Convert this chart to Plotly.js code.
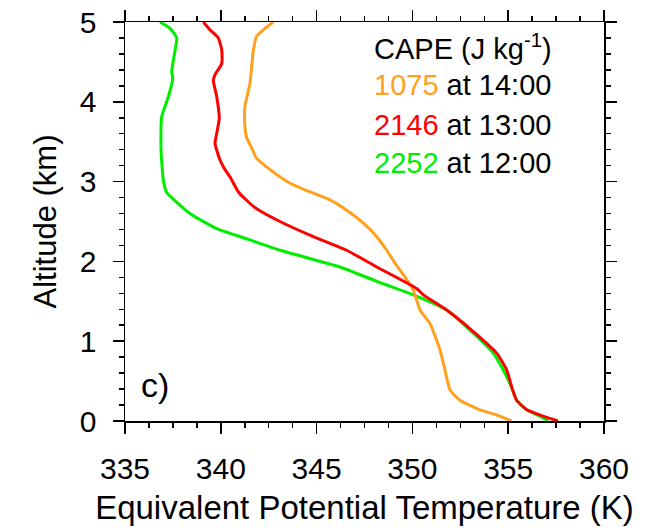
<!DOCTYPE html>
<html>
<head>
<meta charset="utf-8">
<script src="https://cdn.plot.ly/plotly-3.0.1.min.js"></script>
<style>html,body{margin:0;padding:0;background:#fff;}#chart{width:646px;height:530px;}</style>
</head>
<body>
<div id="chart"></div>
<script>
// Altitude (km) and equivalent potential temperature (K), read top to bottom
const altGreen = [5.0,4.92,4.80,4.60,4.38,4.29,4.06,3.81,3.40,3.02,2.87,2.60,2.41,2.27,2.14,1.93,1.75,1.58,1.39,1.10,0.85,0.64,0.47,0.26,0.14,0.06,0.0];
const thetaGreen = [336.83,337.35,337.70,337.58,337.44,337.49,337.26,336.91,336.88,337.00,337.16,338.39,339.79,341.52,343.09,346.22,348.14,350.05,351.79,353.18,354.22,354.74,355.09,355.44,355.97,356.66,357.10];

const altRed = [5.0,4.90,4.80,4.65,4.48,4.34,4.27,4.06,3.79,3.61,3.48,3.27,3.15,3.06,2.87,2.69,2.50,2.31,2.14,1.93,1.66,1.58,1.39,1.12,0.85,0.64,0.43,0.26,0.14,0.06,0.0];
const thetaRed = [339.09,339.44,339.87,340.05,340.05,339.70,339.61,339.79,339.92,339.79,339.70,339.96,340.22,340.48,340.92,341.70,343.09,344.83,346.57,348.14,350.22,350.57,351.79,353.18,354.40,354.92,355.18,355.44,355.97,356.83,357.60];

const altOrange = [5.0,4.92,4.82,4.65,4.23,3.94,3.72,3.55,3.44,3.29,3.15,2.98,2.87,2.77,2.64,2.48,2.31,2.14,1.98,1.89,1.81,1.64,1.52,1.39,1.22,0.89,0.64,0.39,0.26,0.14,0.075,0.0];
const thetaOrange = [342.74,342.31,341.87,341.70,341.52,341.26,341.25,341.35,341.58,341.87,342.57,343.61,344.66,345.70,346.57,347.44,348.14,348.66,349.09,349.35,349.60,350.05,350.22,350.40,350.92,351.44,351.70,351.96,352.48,353.53,354.40,355.18];

const capeValues = ['1075','2146','2252'];
const capeTimes = ['14:00','13:00','12:00'];
const xTicks = [335,340,345,350,355,360];
const yTicks = [0,1,2,3,4,5];

const cOrange = '#ffa01e', cRed = '#ff0000', cGreen = '#00ee00';
const font = 'Liberation Sans, Arial, Helvetica, sans-serif';

const lineStyle = (c) => ({color:c, width:3, shape:'spline', smoothing:0.5});
const traces = [
  {x: thetaGreen, y: altGreen, mode:'lines', line:lineStyle(cGreen), hoverinfo:'skip'},
  {x: thetaOrange, y: altOrange, mode:'lines', line:lineStyle(cOrange), hoverinfo:'skip'},
  {x: thetaRed, y: altRed, mode:'lines', line:lineStyle(cRed), hoverinfo:'skip'}
];

const colors = [cOrange, cRed, cGreen];
const legendY = [0.842, 0.742, 0.647];
const annotations = [
  {xref:'paper', yref:'paper', x:0.516, y:0.938, xanchor:'left', yanchor:'middle', showarrow:false,
   text:'CAPE (J kg<sup>-1</sup>)', font:{family:font, size:29, color:'#000'}},
  {xref:'paper', yref:'paper', x:0.062, y:0.09, xanchor:'center', yanchor:'middle', showarrow:false,
   text:'c)', font:{family:font, size:34, color:'#000'}}
];
capeValues.forEach((v,i)=>{
  annotations.push({xref:'paper', yref:'paper', x:0.516, y:legendY[i], xanchor:'left', yanchor:'middle', showarrow:false,
    text:'<span style="color:'+colors[i]+'">'+v+'</span> at '+capeTimes[i],
    font:{family:font, size:29, color:'#000'}});
});

const axisCommon = {
  showgrid:false, zeroline:false, showline:true, linecolor:'#000', linewidth:1.5,
  mirror:'allticks', ticks:'outside', ticklen:11, tickwidth:1.5, tickcolor:'#000',
  tickfont:{family:font, size:30, color:'#000'}
};

const layout = {
  width:646, height:530,
  margin:{l:125, r:42, t:22, b:109},
  paper_bgcolor:'#fff', plot_bgcolor:'#fff',
  showlegend:false,
  xaxis: Object.assign({}, axisCommon, {
    range:[335,360], tickvals:xTicks, ticktext:xTicks.map(String),
    minor:{dtick:1.25, tick0:335, ticks:'outside', ticklen:5, tickwidth:1.5, tickcolor:'#000', showgrid:false},
    ticklabelstandoff:9,
    title:{text:'Equivalent Potential Temperature (K)', font:{family:font, size:33, color:'#000'}, standoff:12}
  }),
  yaxis: Object.assign({}, axisCommon, {
    range:[0,5], tickvals:yTicks, ticktext:yTicks.map(String),
    minor:{dtick:0.2, tick0:0, ticks:'outside', ticklen:5, tickwidth:1.5, tickcolor:'#000', showgrid:false},
    ticklabelstandoff:10,
    title:{text:'Altitude (km)', font:{family:font, size:31, color:'#000'}, standoff:14}
  }),
  annotations: annotations
};

Plotly.newPlot('chart', traces, layout, {staticPlot:true, displayModeBar:false});
</script>
</body>
</html>
